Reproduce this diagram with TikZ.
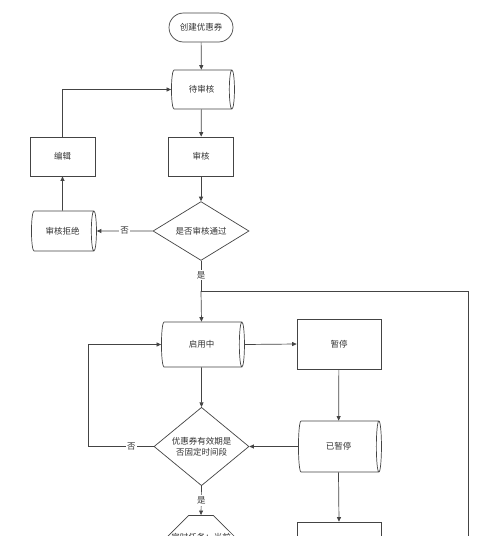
\documentclass[tikz,border=0pt]{standalone}
\usepackage{fontspec}
\setmainfont{Noto Sans CJK SC}
\usetikzlibrary{shapes.geometric,shapes.misc,arrows.meta}
\definecolor{ln}{HTML}{444444}
\definecolor{tx}{HTML}{333333}
\begin{document}
\begin{tikzpicture}[x=1pt,y=-1pt,
  base/.style={font=\fontsize{8.5}{11}\selectfont, text=tx, draw=ln, line width=0.7pt, inner sep=0pt, align=center},
  term/.style={base, rounded rectangle, minimum width=64pt, minimum height=29pt},
  proc/.style={base, rectangle, minimum width=65pt, minimum height=39pt},
  store/.style 2 args={base, cylinder, shape aspect=0.65, minimum height=#1, minimum width=#2},
  dec/.style={base, diamond, minimum width=96pt, minimum height=52pt},
  prep/.style={base, chamfered rectangle, chamfered rectangle xsep=12pt, chamfered rectangle ysep=18pt, minimum width=78pt, minimum height=40pt},
  arr/.style={draw=ln, line width=0.7pt, -{Triangle[length=4.5pt,width=4pt]}},
  ln/.style={draw=ln, line width=0.7pt},
  lab/.style={fill=white, font=\fontsize{8.5}{11}\selectfont, text=tx, inner sep=1.5pt}]
\useasboundingbox (0,0) rectangle (500,536);
\clip (0,0) rectangle (500,536);
\fill[white] (0,0) rectangle (500,536);

\node[term] (start) at (201,27.5) {创建优惠券};
\node[store={63pt}{39pt}] (wait) at (201.5,89.5) {待审核};
\node[proc] (audit) at (201,156.5) {审核};
\node[proc] (edit) at (62.5,156.5) {编辑};
\node[store={65pt}{40pt}] (reject) at (62.5,231) {审核拒绝};
\node[dec] (dec1) at (201,231) {是否审核通过};
\node[store={83pt}{45pt}] (active) at (201.5,344.5) {启用中};
\node[proc, minimum width=84pt, minimum height=50pt] (pause) at (339,344) {暂停};
\node[store={83pt}{51pt}] (paused) at (338.5,446.5) {已暂停};
\node[dec, minimum width=95pt, minimum height=65pt] (dec2) at (201.5,446.5) {优惠券有效期是\\否固定时间段};
\node[prep, text depth=10pt] (timer) at (201,542) {定时任务：当前};
\node[proc, minimum width=84pt, minimum height=46pt] (next) at (339,545) {};

\coordinate (j) at (201,291);
\coordinate (r1) at (468,291);
\coordinate (r2) at (468,560);
\coordinate (lp1) at (62.5,89.5);
\coordinate (lp2) at (88,446.5);
\coordinate (lp3) at (88,344.5);

\draw[arr] (start) -- (wait);
\draw[arr] (wait) -- (audit);
\draw[arr] (audit) -- (dec1);
\draw[arr] (dec1.west) -- node[lab, pos=0.5] {否} (reject.east);
\draw[arr] (reject) -- (edit);
\draw[arr] (edit.north) -- (lp1) -- (wait.west);
\draw[ln] (dec1.south) -- node[lab, pos=0.47] {是} (j);
\draw[arr] (j) -- (active.north);
\draw[ln] (j) -- (r1) -- (r2);
\draw[arr] (active.east) -- (pause.west);
\draw[arr] (active.south) -- (dec2.north);
\draw[arr] (pause) -- (paused);
\draw[arr] (paused.west) -- (dec2.east);
\draw[ln] (dec2.west) -- node[lab, pos=0.34] {否} (lp2);
\draw[arr] (lp2) -- (lp3) -- (active.west);
\draw[arr] (dec2.south) -- node[lab, pos=0.5] {是} (timer.north);
\draw[arr] (paused.south) -- (next.north);
\end{tikzpicture}
\end{document}
